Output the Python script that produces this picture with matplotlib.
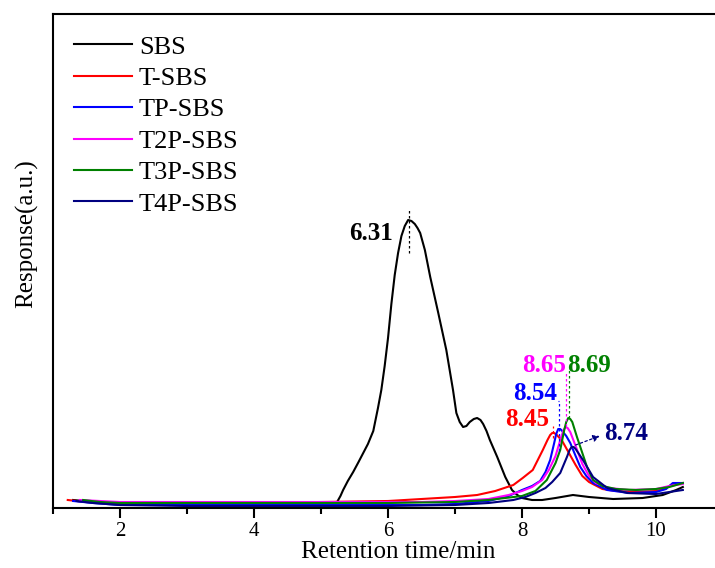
import numpy as np
import matplotlib
matplotlib.use("Agg")
import matplotlib.pyplot as plt
from matplotlib.ticker import MultipleLocator

plt.rcParams['font.family'] = ['Liberation Serif', 'DejaVu Serif']

# kurvene, lest av bildet (y i vilkårlige enheter)
sbs_x = [1.3, 1.6, 2.0, 3.0, 4.0, 4.8, 5.15, 5.24, 5.29, 5.33, 5.4, 5.48, 5.56, 5.63,
         5.7, 5.78, 5.85, 5.9, 5.95, 6.0, 6.05, 6.1, 6.15, 6.2, 6.25, 6.3,
         6.35, 6.4, 6.44, 6.48, 6.55, 6.63, 6.75, 6.87, 6.97, 7.02, 7.07, 7.12,
         7.17, 7.22, 7.28, 7.33, 7.38, 7.42, 7.47, 7.52, 7.63, 7.75, 7.85, 7.93,
         8.0, 8.15, 8.3, 8.5, 8.76, 9.0, 9.36, 9.8, 10.1, 10.3, 10.4]
sbs_y = [8, 6, 5, 4, 4, 4, 4, 6, 12, 18, 27, 36, 46, 55,
         64, 77, 100, 118, 142, 170, 204, 233, 255, 272, 282, 288,
         287, 284, 280, 275, 258, 231, 195, 158, 118, 95, 86, 81,
         82, 86, 89, 90, 88, 84, 77, 68, 51, 31, 18, 13,
         10, 8, 8, 10, 13, 11, 9, 10, 13, 18, 21]

t_x = [1.22, 1.5, 2.0, 3.0, 4.0, 5.0, 6.0, 6.5, 7.0, 7.33, 7.6, 7.87,
       8.01, 8.16, 8.31, 8.38, 8.42, 8.45, 8.48, 8.52, 8.6, 8.7, 8.8, 8.9,
       9.0, 9.2, 9.4, 9.7, 10.0, 10.15, 10.25, 10.4]
t_y = [8, 6, 5, 5, 5, 6, 7, 9, 11, 13, 17, 23,
       30, 38, 58, 68, 73, 75, 75, 73, 67, 55, 43, 32,
       26, 19, 17, 16, 17, 20, 24, 25]

tp_x = [1.3, 1.6, 2.0, 3.0, 4.0, 5.0, 6.0, 6.5, 7.0, 7.5, 7.8, 8.0,
        8.15, 8.27, 8.35, 8.42, 8.48, 8.51, 8.54, 8.57, 8.6, 8.66, 8.72, 8.8,
        8.87, 8.96, 9.06, 9.27, 9.6, 10.0, 10.15, 10.25, 10.4]
tp_y = [7, 5, 3, 3, 3, 3, 3, 3, 4, 7, 12, 18,
        22, 27, 36, 48, 65, 74, 79, 79, 77, 72, 65, 52,
        41, 32, 25, 18, 15, 16, 19, 25, 25]

t2p_x = [1.4, 1.7, 2.0, 3.0, 4.0, 5.0, 6.0, 6.5, 7.0, 7.5, 7.8, 8.0,
         8.15, 8.3, 8.4, 8.5, 8.58, 8.62, 8.65, 8.68, 8.72, 8.8, 8.9, 9.0,
         9.1, 9.3, 9.6, 10.0, 10.2, 10.4]
t2p_y = [8, 7, 6, 6, 6, 6, 6, 6, 7, 9, 13, 17,
         21, 28, 38, 52, 70, 78, 81, 80, 76, 62, 44, 32,
         25, 20, 18, 19, 22, 24]

t3p_x = [1.45, 1.7, 2.0, 3.0, 4.0, 5.0, 6.0, 7.0, 7.5, 8.0, 8.2, 8.37,
         8.5, 8.57, 8.63, 8.66, 8.69, 8.72, 8.75, 8.82, 8.9, 8.97, 9.06, 9.2,
         9.4, 9.7, 10.0, 10.2, 10.4]
t3p_y = [8, 6, 5, 5, 5, 5, 5, 6, 8, 12, 17, 28,
         45, 58, 78, 86, 90, 89, 86, 71, 55, 41, 28, 22,
         19, 18, 19, 21, 25]

t4p_x = [1.35, 1.6, 2.0, 3.0, 4.0, 5.0, 6.0, 7.0, 7.5, 7.87, 8.05, 8.2,
         8.35, 8.45, 8.57, 8.67, 8.71, 8.74, 8.77, 8.8, 8.91, 9.06, 9.27, 9.57,
         10.0, 10.2, 10.4]
t4p_y = [7, 5, 3, 2, 2, 2, 2, 3, 5, 8, 11, 15,
         20, 26, 35, 51, 58, 61, 61, 59, 48, 31, 20, 15,
         14, 16, 18]

navn = ["SBS", "T-SBS", "TP-SBS", "T2P-SBS", "T3P-SBS", "T4P-SBS"]
farger = ["black", "#ff0000", "#0000ff", "#ff00ff", "#008000", "#000080"]
kurver = [(sbs_x, sbs_y), (t_x, t_y), (tp_x, tp_y),
          (t2p_x, t2p_y), (t3p_x, t3p_y), (t4p_x, t4p_y)]

fig = plt.figure(figsize=(7.15, 5.68), dpi=100)
ax = fig.add_axes([53/715, 60/568, 662/715, 494/568])

for (xs, ys), n, c in zip(kurver, navn, farger):
    ax.plot(xs, ys, color=c, lw=1.5, label=n, solid_joinstyle="round")

# stiplede linjer ved toppene
strek = (0, (2, 2))
ax.plot([6.31, 6.31], [255, 300], ls=strek, color="black", lw=0.9)
ax.plot([8.46, 8.46], [70, 82], ls=strek, color="#ff0000", lw=0.9)
ax.plot([8.55, 8.55], [57, 107], ls=strek, color="#0000ff", lw=0.9)
ax.plot([8.53, 8.55], [107, 107], ls=strek, color="#0000ff", lw=0.9)
ax.plot([8.66, 8.66], [82, 137], ls=strek, color="#ff00ff", lw=0.9)
ax.plot([8.70, 8.70], [90, 140], ls=strek, color="#008000", lw=0.9)
ax.annotate("", xy=(9.2, 73), xytext=(8.76, 62),
            arrowprops=dict(arrowstyle="-|>", ls=strek, color="#000080",
                            lw=0.9, mutation_scale=10))

fs = 18
ax.text(6.07, 275, "6.31", ha="right", va="center", fontsize=fs, fontweight="bold", color="black")
ax.text(8.40, 89, "8.45", ha="right", va="center", fontsize=fs, fontweight="bold", color="#ff0000")
ax.text(8.53, 114, "8.54", ha="right", va="center", fontsize=fs, fontweight="bold", color="#0000ff")
ax.text(8.65, 143, "8.65", ha="right", va="center", fontsize=fs, fontweight="bold", color="#ff00ff")
ax.text(8.68, 143, "8.69", ha="left", va="center", fontsize=fs, fontweight="bold", color="#008000")
ax.text(9.23, 74, "8.74", ha="left", va="center", fontsize=fs, fontweight="bold", color="#000080")

ax.set_xlim(1, 10.88)
ax.set_ylim(0, 494)
ax.spines["right"].set_visible(False)
for s in ["left", "bottom", "top"]:
    ax.spines[s].set_linewidth(1.5)
ax.set_yticks([])
ax.xaxis.set_major_locator(MultipleLocator(2))
ax.xaxis.set_minor_locator(MultipleLocator(1))
ax.tick_params(axis="x", which="major", direction="out", length=7, width=1.5, labelsize=15, pad=3)
ax.tick_params(axis="x", which="minor", direction="out", length=4, width=1.5)

ax.set_xlabel("Retention time/min", fontsize=18)
ax.xaxis.set_label_coords(0.521, -0.066)
ax.set_ylabel("Response(a.u.)", fontsize=18)
ax.yaxis.set_label_coords(-0.022, 0.555)

ax.legend(loc="upper left", frameon=False, fontsize=19, handlelength=2.2,
          handletextpad=0.25, labelspacing=0.3, borderaxespad=0.4)

fig.savefig("out.png", dpi=100)
